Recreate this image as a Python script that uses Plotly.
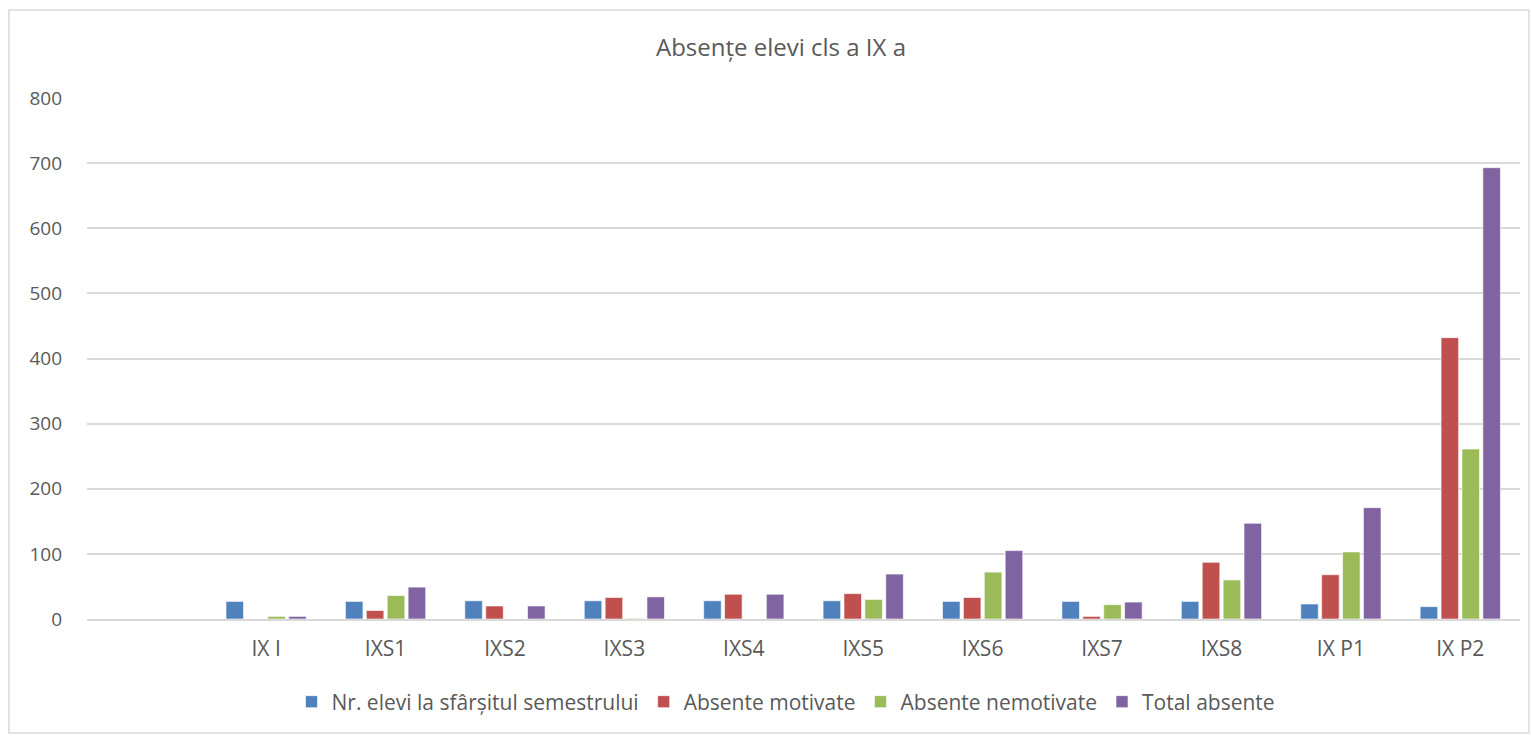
import plotly.graph_objects as go

categories = [" ", "IX I", "IXS1", "IXS2", "IXS3", "IXS4", "IXS5", "IXS6", "IXS7", "IXS8", "IX P1", "IX P2"]
nr_elevi = [None, 27, 27, 28, 28, 28, 28, 27, 27, 27, 23, 19]
absente_motivate = [None, 0, 13, 20, 33, 38, 39, 33, 4, 87, 68, 432]
absente_nemotivate = [None, 4, 36, 0, 1, 0, 30, 72, 22, 60, 103, 261]
total_absente = [None, 4, 49, 20, 34, 38, 69, 105, 26, 147, 171, 693]

series = [
    ("Nr. elevi la sfârșitul semestrului", nr_elevi, "#4f81bd"),
    ("Absente motivate", absente_motivate, "#c0504d"),
    ("Absente nemotivate", absente_nemotivate, "#9bbb59"),
    ("Total absente", total_absente, "#8064a2"),
]

fig = go.Figure()
for name, vals, color in series:
    fig.add_trace(go.Bar(x=categories, y=vals, name=name,
                         marker=dict(color=color, line=dict(color="rgba(255,255,255,0.6)", width=1))))

W, H = 1531, 736
l, r, t, b = 87, 11, 98, 117
pw, ph = W - l - r, H - t - b

def px(x):
    return (x - l) / pw

def py(y):
    return (H - b - y) / ph

font = "Open Sans, Lato, sans-serif"
fig.update_layout(
    width=W, height=H,
    margin=dict(l=l, r=r, t=t, b=b),
    paper_bgcolor="white", plot_bgcolor="white",
    barmode="group", bargap=0.3, bargroupgap=0.16,
    title=dict(text="Absențe elevi cls a IX a", xref="container", x=781 / W, xanchor="center",
               yref="container", y=1 - 48 / H, yanchor="middle",
               font=dict(family=font, size=24, color="#595959")),
    font=dict(family=font, size=21, color="#595959"),
    showlegend=True,
    legend=dict(orientation="h", x=px(786), xanchor="center", y=py(702), yanchor="middle",
                font=dict(family=font, size=21, color="#595959"),
                itemwidth=30, traceorder="normal"),
    xaxis=dict(type="category", showgrid=False, showline=True, linecolor="#d9d9d9", linewidth=2,
               ticks="", ticklabelstandoff=10, tickfont=dict(size=21, color="#595959")),
    yaxis=dict(range=[0, 800], dtick=100, showgrid=True, gridcolor="#d9d9d9", gridwidth=1.5,
               zeroline=False, showline=False, ticks="", ticklabelstandoff=24,
               tickfont=dict(size=19, color="#595959")),
    shapes=[dict(type="rect", xref="paper", yref="paper",
                 x0=px(9), x1=px(1529), y0=py(733), y1=py(10),
                 line=dict(color="#d9d9d9", width=1.5), fillcolor="rgba(0,0,0,0)", layer="below")],
)

fig.write_html("out.html", config={"displayModeBar": False},
               post_script="document.body.style.margin='0';document.body.style.overflow='hidden';")
